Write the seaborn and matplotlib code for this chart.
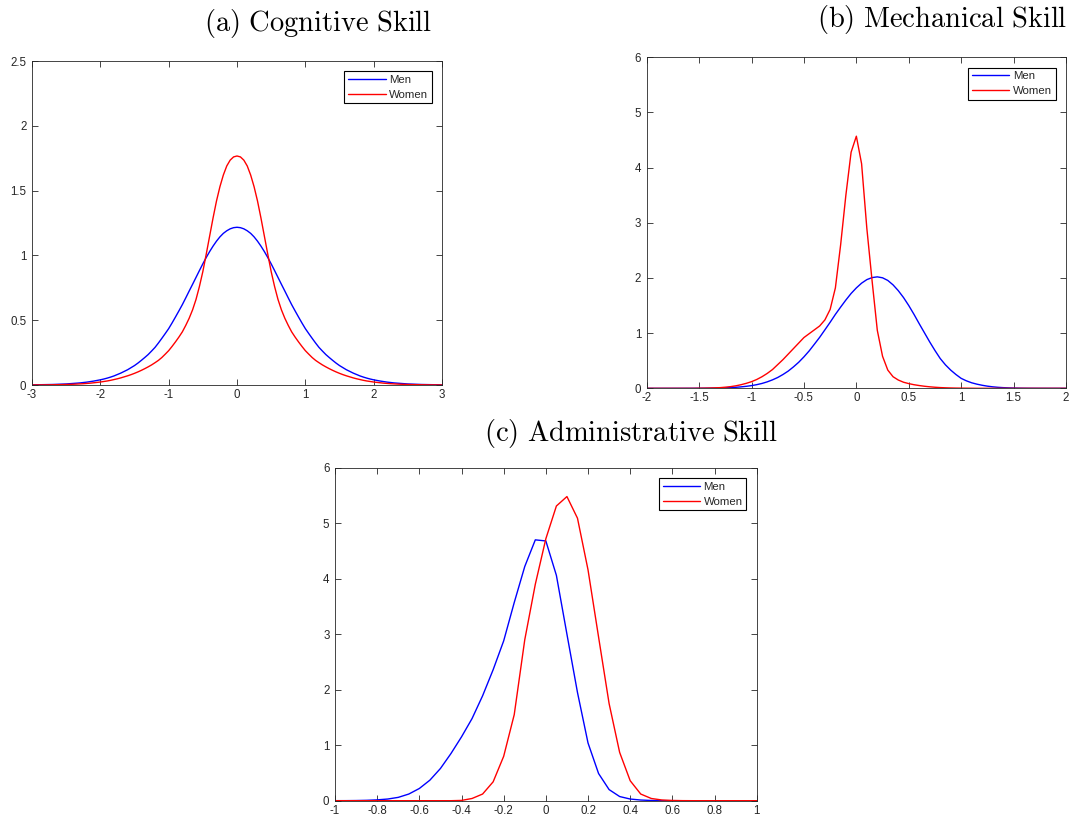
import numpy as np
import pandas as pd
import matplotlib
matplotlib.use("Agg")
import matplotlib.pyplot as plt
import seaborn as sns

sns.set_theme(style="ticks")
plt.rcParams["font.family"] = ["Liberation Sans", "DejaVu Sans"]
plt.rcParams["mathtext.fontset"] = "cm"
plt.rcParams["axes.unicode_minus"] = False

# ---- (a) Cognitive skill: densities on a 0.05 grid from -3 to 3 ----
cog_x = np.round(np.linspace(-3, 3, 121), 2)
cog_men_left = [0.001, 0.0015, 0.002, 0.0025, 0.003, 0.0035, 0.004, 0.005, 0.006, 0.007,
                0.008, 0.01, 0.012, 0.014, 0.016, 0.019, 0.022, 0.026, 0.03, 0.035,
                0.04, 0.046, 0.053, 0.061, 0.07, 0.081, 0.092, 0.105, 0.118, 0.134,
                0.15, 0.169, 0.19, 0.212, 0.235, 0.262, 0.29, 0.324, 0.36, 0.397,
                0.435, 0.479, 0.525, 0.572, 0.62, 0.672, 0.725, 0.777, 0.83, 0.883,
                0.935, 0.984, 1.03, 1.072, 1.11, 1.143, 1.17, 1.19, 1.205, 1.214]
cog_men_right = [1.217, 1.214, 1.205, 1.19, 1.17, 1.143, 1.11, 1.072, 1.03, 0.984,
                 0.935, 0.883, 0.83, 0.777, 0.725, 0.672, 0.62, 0.572, 0.525, 0.479,
                 0.435, 0.397, 0.36, 0.324, 0.29, 0.262, 0.235, 0.212, 0.19, 0.169,
                 0.15, 0.134, 0.118, 0.105, 0.092, 0.081, 0.07, 0.061, 0.053, 0.046,
                 0.04, 0.035, 0.03, 0.026, 0.022, 0.019, 0.016, 0.014, 0.012, 0.01,
                 0.008, 0.007, 0.006, 0.005, 0.004, 0.0035, 0.003, 0.0025, 0.002, 0.0015,
                 0.001]
cog_women_left = [0.0004, 0.0005, 0.0007, 0.0009, 0.0011, 0.0014, 0.0018, 0.0022, 0.0027, 0.0033,
                  0.004, 0.0048, 0.0058, 0.007, 0.0085, 0.01, 0.012, 0.014, 0.017, 0.02,
                  0.023, 0.027, 0.031, 0.036, 0.042, 0.048, 0.055, 0.063, 0.071, 0.08,
                  0.09, 0.101, 0.113, 0.126, 0.14, 0.155, 0.172, 0.19, 0.212, 0.238,
                  0.265, 0.298, 0.333, 0.37, 0.41, 0.46, 0.515, 0.58, 0.66, 0.76,
                  0.875, 1.01, 1.15, 1.29, 1.42, 1.53, 1.62, 1.69, 1.735, 1.76]
cog_women_right = [1.767, 1.76, 1.735, 1.69, 1.62, 1.53, 1.42, 1.29, 1.15, 1.01,
                   0.875, 0.76, 0.66, 0.58, 0.515, 0.46, 0.41, 0.37, 0.333, 0.298,
                   0.265, 0.238, 0.212, 0.19, 0.172, 0.155, 0.14, 0.126, 0.113, 0.101,
                   0.09, 0.08, 0.071, 0.063, 0.055, 0.048, 0.042, 0.036, 0.031, 0.027,
                   0.023, 0.02, 0.017, 0.014, 0.012, 0.01, 0.0085, 0.007, 0.0058, 0.0048,
                   0.004, 0.0033, 0.0027, 0.0022, 0.0018, 0.0014, 0.0011, 0.0009, 0.0007, 0.0005,
                   0.0004]
cog_men = cog_men_left + cog_men_right
cog_women = cog_women_left + cog_women_right

# ---- (b) Mechanical skill: 0.05 grid from -2 to 2 ----
mech_x = np.round(np.linspace(-2, 2, 81), 2)
mech_men = [0.0, 0.0, 0.0, 0.0, 0.0001, 0.0001, 0.0002, 0.0003, 0.0005, 0.0007,
            0.0012, 0.0018, 0.0027, 0.004, 0.006, 0.0089, 0.013, 0.018, 0.026, 0.036,
            0.049, 0.066, 0.088, 0.117, 0.153, 0.196, 0.25, 0.312, 0.388, 0.472,
            0.57, 0.678, 0.80, 0.924, 1.06, 1.197, 1.34, 1.472, 1.60, 1.719,
            1.82, 1.906, 1.97, 2.007, 2.02, 2.003, 1.955, 1.875, 1.77, 1.645,
            1.50, 1.34, 1.17, 1.005, 0.84, 0.685, 0.54, 0.425, 0.33, 0.25,
            0.18, 0.135, 0.10, 0.075, 0.055, 0.039, 0.027, 0.018, 0.012, 0.008,
            0.005, 0.0032, 0.002, 0.0012, 0.0007, 0.0004, 0.0002, 0.0001, 0.0001, 0.0,
            0.0]
mech_women = [0.0, 0.0, 0.0, 0.0, 0.0, 0.0, 0.0, 0.0, 0.0, 0.0,
              0.002, 0.003, 0.005, 0.008, 0.012, 0.02, 0.03, 0.045, 0.065, 0.09,
              0.12, 0.16, 0.21, 0.27, 0.34, 0.43, 0.52, 0.62, 0.72, 0.82,
              0.92, 0.99, 1.06, 1.13, 1.24, 1.43, 1.82, 2.6, 3.5, 4.28,
              4.57, 4.07, 2.9, 1.95, 1.05, 0.58, 0.33, 0.21, 0.15, 0.11,
              0.085, 0.065, 0.05, 0.037, 0.027, 0.019, 0.013, 0.009, 0.006, 0.004,
              0.003, 0.002, 0.001, 0.0, 0.0, 0.0, 0.0, 0.0, 0.0, 0.0,
              0.0, 0.0, 0.0, 0.0, 0.0, 0.0, 0.0, 0.0, 0.0, 0.0,
              0.0]

# ---- (c) Administrative skill: 0.05 grid from -1 to 1 ----
adm_x = np.round(np.linspace(-1, 1, 41), 2)
adm_men = [0.0005, 0.001, 0.003, 0.007, 0.015, 0.03, 0.06, 0.12, 0.22, 0.37,
           0.58, 0.85, 1.15, 1.48, 1.89, 2.36, 2.88, 3.57, 4.22, 4.70,
           4.68, 4.06, 3.0, 1.95, 1.04, 0.49, 0.2, 0.075, 0.03, 0.012,
           0.004, 0.001, 0.0005, 0.0, 0.0, 0.0, 0.0, 0.0, 0.0, 0.0,
           0.0]
adm_women = [0.0, 0.0, 0.0, 0.0, 0.0, 0.0, 0.0, 0.0, 0.0, 0.0,
             0.0, 0.0, 0.005, 0.04, 0.12, 0.34, 0.8, 1.55, 2.9, 3.9,
             4.72, 5.31, 5.48, 5.09, 4.16, 2.95, 1.75, 0.87, 0.36, 0.12,
             0.04, 0.013, 0.004, 0.001, 0.0, 0.0, 0.0, 0.0, 0.0, 0.0,
             0.0]

# ---- axis ticks ----
cog_xticks = [-3, -2, -1, 0, 1, 2, 3]
cog_xlabels = ["-3", "-2", "-1", "0", "1", "2", "3"]
cog_yticks = [0, 0.5, 1, 1.5, 2, 2.5]
cog_ylabels = ["0", "0.5", "1", "1.5", "2", "2.5"]
mech_xticks = [-2, -1.5, -1, -0.5, 0, 0.5, 1, 1.5, 2]
mech_xlabels = ["-2", "-1.5", "-1", "-0.5", "0", "0.5", "1", "1.5", "2"]
six_yticks = [0, 1, 2, 3, 4, 5, 6]
six_ylabels = ["0", "1", "2", "3", "4", "5", "6"]
adm_xticks = [-1, -0.8, -0.6, -0.4, -0.2, 0, 0.2, 0.4, 0.6, 0.8, 1]
adm_xlabels = ["-1", "-0.8", "-0.6", "-0.4", "-0.2", "0", "0.2", "0.4", "0.6", "0.8", "1"]

titles = [r"$\mathrm{(a)\ Cognitive\ Skill}$",
          r"$\mathrm{(b)\ Mechanical\ Skill}$",
          r"$\mathrm{(c)\ Administrative\ Skill}$"]

AX_COLOR = "#262626"
MEN_COLOR = "#0000ff"
WOMEN_COLOR = "#ff0000"

W, H = 1069, 825
fig = plt.figure(figsize=(W / 100, H / 100), dpi=100)


def px_axes(left, top, right, bottom):
    return fig.add_axes([left / W, 1 - bottom / H, (right - left) / W, (bottom - top) / H])


def draw_panel(ax, xm, ym, xw, yw, xlim, ylim, xt, xl, yt, yl):
    men_df = pd.DataFrame({"x": xm, "y": ym})
    women_df = pd.DataFrame({"x": xw, "y": yw})
    sns.lineplot(data=men_df, x="x", y="y", ax=ax, color=MEN_COLOR, lw=1.0, label="Men")
    sns.lineplot(data=women_df, x="x", y="y", ax=ax, color=WOMEN_COLOR, lw=1.0, label="Women")
    ax.set_xlim(*xlim)
    ax.set_ylim(*ylim)
    ax.set_xticks(xt)
    ax.set_xticklabels(xl)
    ax.set_yticks(yt)
    ax.set_yticklabels(yl)
    ax.set_xlabel("")
    ax.set_ylabel("")
    ax.tick_params(direction="in", length=4, width=0.6, colors=AX_COLOR,
                   labelsize=8.3, top=True, right=True, pad=3)
    ax.tick_params(axis="y", pad=4)
    for s in ax.spines.values():
        s.set_visible(True)
        s.set_color(AX_COLOR)
        s.set_linewidth(0.6)
    leg = ax.legend(loc="upper right", bbox_to_anchor=(0.975, 0.969), borderaxespad=0,
                    fontsize=8.2, handlelength=3.3, handletextpad=0.3, labelspacing=0.45,
                    borderpad=0.32, fancybox=False, framealpha=1, edgecolor="black")
    leg.get_frame().set_linewidth(0.8)


ax_a = px_axes(32, 61, 442, 385)
draw_panel(ax_a, cog_x, cog_men, cog_x, cog_women, (-3, 3), (0, 2.5),
           cog_xticks, cog_xlabels, cog_yticks, cog_ylabels)

ax_b = px_axes(646.7, 57.3, 1066, 388.3)
draw_panel(ax_b, mech_x, mech_men, mech_x, mech_women, (-2, 2), (0, 6),
           mech_xticks, mech_xlabels, six_yticks, six_ylabels)

ax_c = px_axes(335, 467.7, 756.7, 800.7)
draw_panel(ax_c, adm_x, adm_men, adm_x, adm_women, (-1, 1), (0, 6),
           adm_xticks, adm_xlabels, six_yticks, six_ylabels)

fig.text(432 / W, 1 - 31 / H, titles[0], ha="right", va="baseline", fontsize=20.5, color="black")
fig.text(1067 / W, 1 - 27 / H, titles[1], ha="right", va="baseline", fontsize=20.5, color="black")
fig.text(778 / W, 1 - 441 / H, titles[2], ha="right", va="baseline", fontsize=20.5, color="black")

fig.savefig("out.png", dpi=100, facecolor="white")
